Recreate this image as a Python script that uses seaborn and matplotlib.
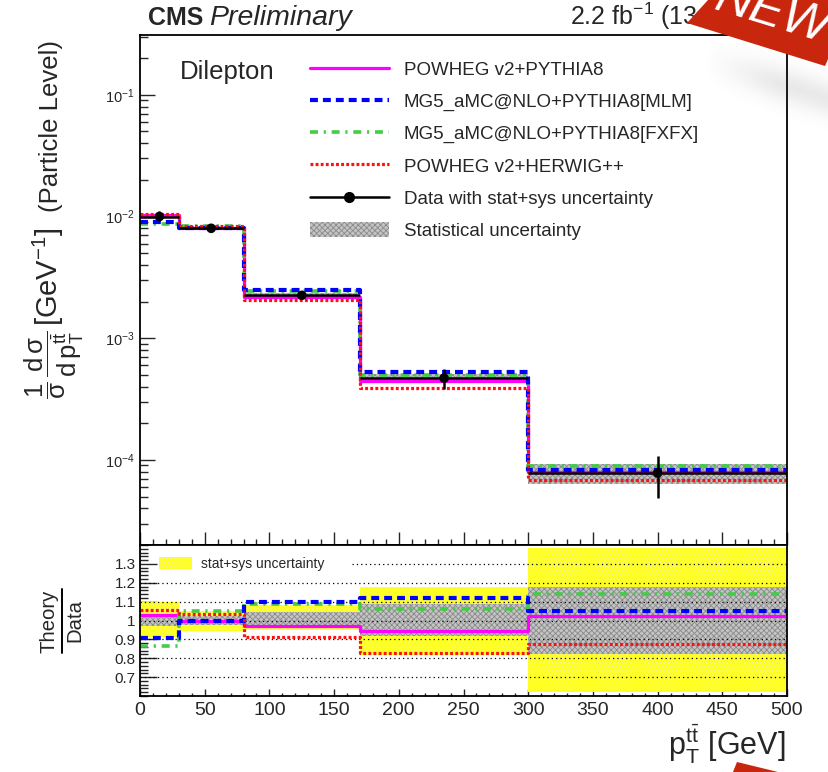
import numpy as np
import matplotlib
matplotlib.use("Agg")
import matplotlib.pyplot as plt
import seaborn as sns
from matplotlib.patches import Polygon, Patch
from matplotlib.lines import Line2D
from matplotlib.ticker import MultipleLocator, LogLocator, NullFormatter, FixedLocator, FixedFormatter

sns.set_theme(style="white")
plt.rcParams['font.family'] = ['Liberation Sans', 'DejaVu Sans']
plt.rcParams['mathtext.fontset'] = 'custom'
plt.rcParams['mathtext.rm'] = 'Liberation Sans'
plt.rcParams['mathtext.it'] = 'Liberation Sans:italic'
plt.rcParams['mathtext.bf'] = 'Liberation Sans:bold'
plt.rcParams['mathtext.sf'] = 'Liberation Sans'
plt.rcParams['mathtext.default'] = 'regular'
plt.rcParams['hatch.linewidth'] = 0.6

# ---- data ----
bin_edges = [0, 30, 80, 170, 300, 500]
data_xsec = [1.0e-2, 8.0e-3, 2.25e-3, 4.7e-4, 7.8e-5]
# relative band edges (data = 1): total (stat+sys) and statistical
total_lo = [0.915, 0.945, 0.95, 0.815, 0.62]
total_hi = [1.10, 1.05, 1.08, 1.18, 1.385]
stat_lo = [0.97, 0.975, 0.96, 0.92, 0.82]
stat_hi = [1.035, 1.025, 1.045, 1.09, 1.18]
# theory / data
ratio_powheg_pythia = [1.03, 1.00, 0.97, 0.945, 1.026]
ratio_mg5_mlm = [0.905, 1.00, 1.10, 1.117, 1.05]
ratio_mg5_fxfx = [0.863, 1.05, 1.085, 1.063, 1.14]
ratio_powheg_herwig = [1.053, 1.037, 0.915, 0.826, 0.875]

model_labels = ["POWHEG v2+PYTHIA8", "MG5_aMC@NLO+PYTHIA8[MLM]",
                "MG5_aMC@NLO+PYTHIA8[FXFX]", "POWHEG v2+HERWIG++"]
x_ticks = [0, 50, 100, 150, 200, 250, 300, 350, 400, 450, 500]
ratio_ticks = [0.7, 0.8, 0.9, 1.0, 1.1, 1.2, 1.3]
ratio_tick_labels = ["0.7", "0.8", "0.9", "1", "1.1", "1.2", "1.3"]

edges = np.array(bin_edges, dtype=float)
centers = 0.5 * (edges[1:] + edges[:-1])
halfw = 0.5 * np.diff(edges)
data = np.array(data_xsec)

styles = [
    dict(color="#ff00ff", lw=2.3, linestyle="-"),
    dict(color="#0000ff", lw=3.0, linestyle=(0, (1.9, 1.2))),
    dict(color="#44cc44", lw=2.6, linestyle=(0, (2.2, 1.6, 0.6, 1.6))),
    dict(color="#ff1111", lw=2.3, linestyle=(0, (0.9, 0.7))),
]
ratios = [ratio_powheg_pythia, ratio_mg5_mlm, ratio_mg5_fxfx, ratio_powheg_herwig]
draw_order = [0, 2, 1, 3]


def stepvals(v):
    v = list(v)
    return np.array(v + [v[-1]], dtype=float)


W, H = 829, 772
fig = plt.figure(figsize=(W / 100, H / 100), dpi=100)


def fx(x):
    return x / W


def fy(y):
    return 1 - y / H


ax1 = fig.add_axes([fx(140), fy(545), (787 - 140) / W, (545 - 35) / H])
ax2 = fig.add_axes([fx(140), fy(696), (787 - 140) / W, (696 - 545) / H])

# ---- upper panel ----
ax1.set_yscale("log")
ax1.fill_between(edges, stepvals(data * np.array(stat_lo)), stepvals(data * np.array(stat_hi)),
                 step="post", facecolor="#c4c4c4", edgecolor="#8a8a8a", hatch="xxxxxx",
                 linewidth=0, zorder=1)
for i in draw_order:
    sns.lineplot(x=edges, y=stepvals(data * np.array(ratios[i])), ax=ax1,
                 drawstyle="steps-post", sort=False, estimator=None, zorder=3, **styles[i])
ax1.errorbar(centers, data, xerr=halfw,
             yerr=[data - data * np.array(total_lo), data * np.array(total_hi) - data],
             fmt="none", ecolor="black", elinewidth=1.8, capsize=0, zorder=5)
sns.scatterplot(x=centers, y=data, ax=ax1, color="black", s=48, edgecolor="none", zorder=6)

ax1.set_xlim(0, 500)
ax1.set_ylim(2.0e-5, 0.31)
ax1.set_xlabel("")
ax1.set_ylabel("")
ax1.xaxis.set_major_locator(FixedLocator(x_ticks))
ax1.xaxis.set_minor_locator(MultipleLocator(10))
ax1.xaxis.set_major_formatter(NullFormatter())
ax1.yaxis.set_major_locator(LogLocator(base=10))
ax1.yaxis.set_minor_locator(LogLocator(base=10, subs=np.arange(2, 10)))
ax1.yaxis.set_minor_formatter(NullFormatter())
ax1.tick_params(axis="x", which="major", direction="in", length=9.5, width=1, bottom=True, top=False)
ax1.tick_params(axis="x", which="minor", direction="in", length=4.5, width=1, bottom=True, top=False)
ax1.tick_params(axis="y", which="major", direction="in", length=11, width=1, left=True,
                right=False, labelsize=10.5, pad=4)
ax1.tick_params(axis="y", which="minor", direction="in", length=6, width=1, left=True, right=False)

ax1.text(fx(180), fy(79), "Dilepton", transform=fig.transFigure, fontsize=18.5, va="baseline")

handles = [Line2D([], [], **styles[i]) for i in range(4)]
handles.append(Line2D([], [], color="black", lw=1.8, marker="o", ms=7))
handles.append(Patch(facecolor="#c4c4c4", edgecolor="#8a8a8a", hatch="xxxxxx", linewidth=0))
labels = model_labels + ["Data with stat+sys uncertainty", "Statistical uncertainty"]
ax1.legend(handles, labels, loc="upper left", bbox_to_anchor=(fx(310), fy(60.5)),
           bbox_transform=fig.transFigure, frameon=False, fontsize=13.5,
           handlelength=4.2, handletextpad=0.8, labelspacing=0.74,
           borderpad=0, borderaxespad=0, handleheight=0.9)

# ---- ratio panel ----
ax2.fill_between(edges, stepvals(total_lo), stepvals(total_hi), step="post",
                 facecolor="#ffff22", edgecolor="#f4f48a", hatch="....", linewidth=0, zorder=1)
ax2.fill_between(edges, stepvals(stat_lo), stepvals(stat_hi), step="post",
                 facecolor="#c4c4c4", edgecolor="#8a8a8a", hatch="xxxxxx", linewidth=0, zorder=2)
for yv in ratio_ticks:
    xmin = (352 - 140) / 647 if yv == 1.3 else 0
    ax2.axhline(yv, xmin=xmin, color="black", lw=0.9, linestyle=(0, (1, 2.5)), zorder=3)
for i in draw_order:
    sns.lineplot(x=edges, y=stepvals(ratios[i]), ax=ax2, drawstyle="steps-post",
                 sort=False, estimator=None, zorder=4, **styles[i])

ax2.set_xlim(0, 500)
ax2.set_ylim(0.6, 1.4)
ax2.set_xlabel("")
ax2.set_ylabel("")
ax2.xaxis.set_major_locator(FixedLocator(x_ticks))
ax2.xaxis.set_minor_locator(MultipleLocator(10))
ax2.yaxis.set_major_locator(FixedLocator(ratio_ticks))
ax2.yaxis.set_major_formatter(FixedFormatter(ratio_tick_labels))
ax2.yaxis.set_minor_locator(MultipleLocator(0.02))
ax2.tick_params(axis="x", which="major", direction="in", length=5, width=1, bottom=True,
                top=False, labelsize=14, pad=4)
ax2.tick_params(axis="x", which="minor", direction="in", length=2.5, width=1, bottom=True, top=False)
ax2.tick_params(axis="y", which="major", direction="in", length=12, width=1, left=True,
                right=False, labelsize=11, pad=3)
ax2.tick_params(axis="y", which="minor", direction="in", length=5.5, width=1, left=True, right=False)

ax2.legend([Patch(facecolor="#ffff22", edgecolor="#f4f48a", hatch="....", linewidth=0)],
           ["stat+sys uncertainty"], loc="upper left", bbox_to_anchor=(fx(159), fy(557)),
           bbox_transform=fig.transFigure, frameon=False, fontsize=10,
           handlelength=2.4, handletextpad=0.6, borderpad=0, borderaxespad=0, handleheight=0.9)

for ax in (ax1, ax2):
    for s in ax.spines.values():
        s.set_color("black")
        s.set_linewidth(1.3)
        s.set_zorder(8)

# ---- axis titles ----
fig.text(fx(58), fy(40), "(Particle Level)", rotation=90, rotation_mode="anchor",
         ha="right", va="baseline", fontsize=18.5)
fig.text(fx(58), fy(277), r"[GeV$^{-1}$]", rotation=90, rotation_mode="anchor",
         ha="center", va="baseline", fontsize=21)
fig.text(fx(54), fy(365), r"$\dfrac{1}{\sigma}\,\dfrac{d\,\sigma}{d\,p_{T}^{t\bar{t}}}$",
         rotation=90, ha="center", va="center", fontsize=18.5)

fig.text(fx(55), fy(621), "Theory", rotation=90, rotation_mode="anchor", ha="center",
         va="baseline", fontsize=14.6)
fig.text(fx(80), fy(621), "Data", rotation=90, rotation_mode="anchor", ha="center",
         va="baseline", fontsize=14.6)
fig.add_artist(Line2D([fx(62), fx(62)], [fy(589), fy(653)], transform=fig.transFigure,
                      color="black", lw=1.4))

fig.text(fx(786), fy(755), r"$p_{T}^{t\bar{t}}$ [GeV]", ha="right", va="baseline", fontsize=22)

# ---- header ----
fig.text(fx(148), fy(25), "CMS", fontsize=18, weight="bold", va="baseline")
fig.text(fx(209), fy(25), "Preliminary", fontsize=20.5, style="italic", va="baseline")
fig.text(fx(570), fy(25), r"2.2 fb$^{-1}$ (13 TeV)", fontsize=18, va="baseline")

# ---- corner ribbon ----
yy, xx = np.mgrid[0:140, 0:W - 660]
xx = xx + 660
ux, uy = 138.0, 43.0
norm = np.hypot(ux, uy)
dist = -((xx - 687) * uy - (yy - 23) * ux) / norm
shade = np.exp(-((dist - 30.0) ** 2) / (2 * 12.0 ** 2)) * np.clip((xx - 705) / 70.0, 0, 1)
shadow = np.zeros(yy.shape + (4,))
shadow[..., :3] = 0.3
shadow[..., 3] = 0.12 * shade
fig.figimage(shadow, xo=660, yo=H - 140, origin="upper", zorder=9)

ribbon = Polygon([(fx(687), fy(23)), (fx(708), fy(0)), (fx(829), fy(0)), (fx(829), fy(57)),
                  (fx(825), fy(66))], closed=True, transform=fig.transFigure,
                 facecolor="#c8270e", edgecolor="none", zorder=10)
fig.patches.append(ribbon)
ribbon2 = Polygon([(fx(733), fy(772)), (fx(737), fy(762)), (fx(778), fy(772))], closed=True,
                  transform=fig.transFigure, facecolor="#c8270e", edgecolor="none", zorder=10)
fig.patches.append(ribbon2)
fig.text(fx(772), fy(14), "NEW", rotation=-17, color="white", fontsize=36, style="italic",
         ha="center", va="center", zorder=11)

fig.savefig("out.png", dpi=100)
